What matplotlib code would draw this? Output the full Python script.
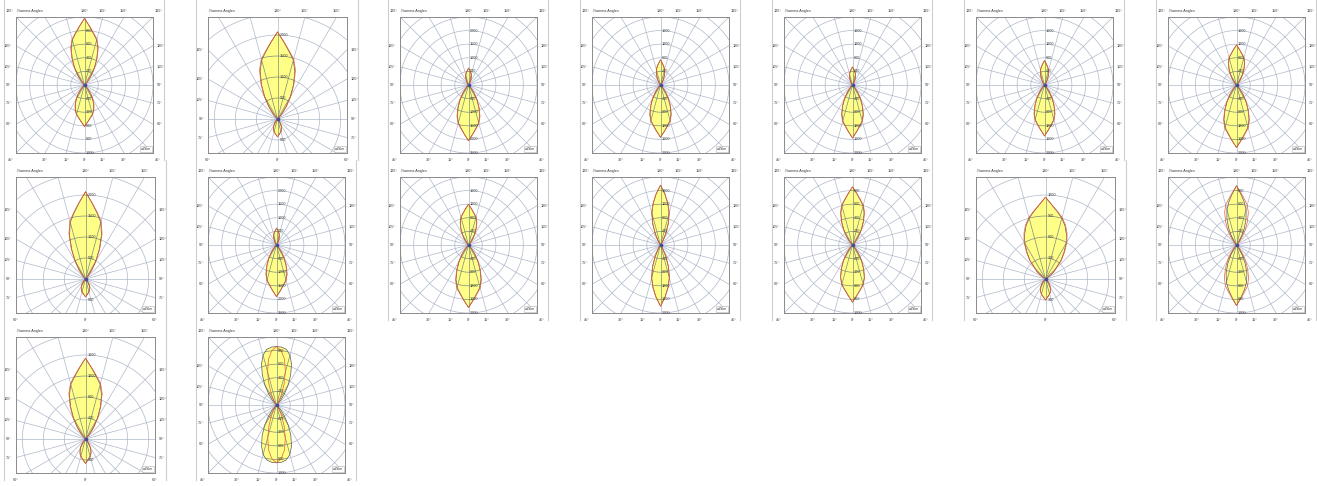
import numpy as np
import matplotlib.pyplot as plt
from matplotlib.collections import LineCollection
from matplotlib.patches import Polygon
from matplotlib.lines import Line2D

plt.rcParams['font.family'] = ['Liberation Sans', 'DejaVu Sans']

# angle away from the beam axis (deg) for every intensity list below
ANGLES = [0, 5, 10, 15, 20, 25, 30, 35, 40, 50, 60]

# 'A' = square diagram (+-45 deg), 'B' = tall diagram (+-60 deg)
KINDS = ['A', 'B', 'A', 'A', 'A', 'A', 'A',
         'B', 'A', 'A', 'A', 'A', 'B', 'A',
         'B', 'A']
# ring step of each diagram in cd/klm
STEPS = [200, 500, 500, 400, 400, 400, 400,
         500, 500, 400, 400, 200, 300, 200,
         400, 200]

# cd/klm, UP = towards 180 deg, DN = towards 0 deg; C0 = filled plane, C90 = red plane
P01_UP_C0 = [980, 862, 764, 686, 568, 421, 284, 167, 74, 10, 0]
P01_UP_C90 = [980, 867, 774, 701, 588, 441, 304, 176, 78, 12, 0]
P01_DN_C0 = [610, 543, 488, 445, 390, 317, 238, 159, 85, 15, 0]
P01_DN_C90 = [610, 546, 494, 453, 400, 328, 247, 166, 90, 17, 0]

P02_UP_C0 = [2075, 1826, 1619, 1453, 1204, 892, 602, 353, 156, 21, 0]
P02_UP_C90 = [2075, 1836, 1639, 1484, 1245, 934, 643, 374, 166, 25, 0]
P02_DN_C0 = [425, 378, 340, 310, 272, 221, 166, 111, 60, 11, 0]
P02_DN_C90 = [425, 380, 344, 316, 278, 227, 171, 115, 63, 12, 0]

P03_UP_C0 = [620, 533, 459, 384, 291, 192, 105, 43, 12, 0, 0]
P03_UP_C90 = [620, 538, 468, 395, 305, 205, 113, 48, 14, 0, 0]
P03_DN_C0 = [2050, 1804, 1599, 1435, 1189, 882, 595, 349, 154, 21, 0]
P03_DN_C90 = [2050, 1814, 1620, 1466, 1230, 923, 636, 369, 164, 25, 0]

P04_UP_C0 = [740, 636, 548, 459, 348, 229, 126, 52, 15, 0, 0]
P04_UP_C90 = [740, 642, 558, 472, 362, 243, 135, 57, 17, 0, 0]
P04_DN_C0 = [1540, 1355, 1201, 1078, 893, 662, 447, 262, 116, 15, 0]
P04_DN_C90 = [1540, 1363, 1217, 1101, 924, 693, 477, 277, 123, 18, 0]

P05_UP_C0 = [530, 456, 392, 329, 249, 164, 90, 37, 11, 0, 0]
P05_UP_C90 = [530, 460, 399, 338, 260, 174, 97, 41, 12, 0, 0]
P05_DN_C0 = [1560, 1373, 1217, 1092, 905, 671, 452, 265, 117, 16, 0]
P05_DN_C90 = [1560, 1381, 1232, 1115, 936, 702, 484, 281, 125, 19, 0]

P06_UP_C0 = [720, 619, 533, 446, 338, 223, 122, 50, 14, 0, 0]
P06_UP_C90 = [720, 625, 543, 459, 352, 236, 131, 55, 16, 0, 0]
P06_DN_C0 = [1500, 1320, 1170, 1050, 870, 645, 435, 255, 113, 15, 0]
P06_DN_C90 = [1500, 1328, 1185, 1073, 900, 675, 465, 270, 120, 18, 0]

P07_UP_C0 = [1180, 1038, 920, 826, 684, 507, 342, 201, 89, 12, 0]
P07_UP_C90 = [1180, 1044, 932, 844, 708, 531, 366, 212, 94, 14, 0]
P07_DN_C0 = [1840, 1619, 1435, 1288, 1067, 791, 534, 313, 138, 18, 0]
P07_DN_C90 = [1840, 1628, 1454, 1316, 1104, 828, 570, 331, 147, 22, 0]

P08_UP_C0 = [2080, 1810, 1590, 1400, 1110, 770, 480, 250, 95, 10, 0]
P08_UP_C90 = [2080, 1820, 1610, 1430, 1150, 810, 510, 270, 105, 12, 0]
P08_DN_C0 = [425, 380, 345, 317, 282, 236, 185, 132, 80, 22, 4]
P08_DN_C90 = [425, 382, 349, 322, 287, 241, 190, 136, 83, 24, 5]

P09_UP_C0 = [620, 533, 459, 384, 291, 192, 105, 43, 12, 0, 0]
P09_UP_C90 = [620, 538, 468, 395, 305, 205, 113, 48, 14, 0, 0]
P09_DN_C0 = [1900, 1672, 1482, 1330, 1102, 817, 551, 323, 143, 19, 0]
P09_DN_C90 = [1900, 1682, 1501, 1359, 1140, 855, 589, 342, 152, 23, 0]

P10_UP_C0 = [1200, 1056, 936, 840, 696, 516, 348, 204, 90, 12, 0]
P10_UP_C90 = [1200, 1062, 948, 858, 720, 540, 372, 216, 96, 14, 0]
P10_DN_C0 = [1840, 1619, 1435, 1288, 1067, 791, 534, 313, 138, 18, 0]
P10_DN_C90 = [1840, 1628, 1454, 1316, 1104, 828, 570, 331, 147, 22, 0]

P11_UP_C0 = [1760, 1496, 1232, 968, 651, 352, 123, 35, 0, 0, 0]
P11_UP_C90 = [1760, 1505, 1250, 995, 680, 375, 135, 40, 0, 0, 0]
P11_DN_C0 = [1800, 1530, 1260, 990, 666, 360, 126, 36, 0, 0, 0]
P11_DN_C90 = [1800, 1540, 1280, 1015, 695, 385, 140, 40, 0, 0, 0]

P12_UP_C0 = [855, 752, 667, 599, 496, 368, 248, 145, 64, 9, 0]
P12_UP_C90 = [855, 757, 675, 611, 513, 385, 265, 154, 68, 10, 0]
P12_DN_C0 = [840, 742, 662, 598, 504, 378, 258, 151, 68, 10, 0]
P12_DN_C90 = [840, 745, 668, 607, 515, 390, 268, 158, 72, 11, 0]

P13_UP_C0 = [1170, 1060, 975, 900, 810, 705, 590, 455, 340, 140, 25]
P13_UP_C90 = [1170, 1063, 982, 912, 828, 725, 610, 475, 355, 150, 28]
P13_DN_C0 = [300, 268, 243, 222, 197, 166, 132, 100, 68, 21, 4]
P13_DN_C90 = [300, 270, 246, 226, 201, 170, 136, 103, 71, 22, 5]

P14_UP_C0 = [870, 748, 644, 539, 409, 270, 148, 61, 17, 0, 0]
P14_UP_C90 = [870, 766, 679, 609, 505, 374, 252, 148, 65, 9, 0]
P14_DN_C0 = [890, 770, 668, 567, 445, 302, 171, 73, 22, 0, 0]
P14_DN_C90 = [890, 783, 694, 623, 516, 383, 258, 151, 67, 9, 0]

P15_UP_C0 = [1540, 1355, 1201, 1078, 893, 662, 447, 262, 116, 15, 0]
P15_UP_C90 = [1540, 1363, 1217, 1101, 924, 693, 477, 277, 123, 18, 0]
P15_DN_C0 = [465, 414, 372, 339, 298, 242, 181, 121, 65, 12, 0]
P15_DN_C90 = [465, 416, 377, 346, 305, 249, 187, 125, 68, 13, 0]

P16_UP_C0 = [860, 855, 830, 760, 640, 490, 340, 205, 100, 15, 0]
P16_UP_C90 = [860, 800, 680, 500, 320, 180, 80, 25, 0, 0, 0]
P16_DN_C0 = [850, 845, 820, 755, 640, 495, 345, 210, 105, 15, 0]
P16_DN_C90 = [850, 790, 670, 495, 320, 180, 80, 25, 0, 0, 0]

UP_C0 = [P01_UP_C0, P02_UP_C0, P03_UP_C0, P04_UP_C0, P05_UP_C0, P06_UP_C0, P07_UP_C0, P08_UP_C0,
         P09_UP_C0, P10_UP_C0, P11_UP_C0, P12_UP_C0, P13_UP_C0, P14_UP_C0, P15_UP_C0, P16_UP_C0]
UP_C90 = [P01_UP_C90, P02_UP_C90, P03_UP_C90, P04_UP_C90, P05_UP_C90, P06_UP_C90, P07_UP_C90, P08_UP_C90,
          P09_UP_C90, P10_UP_C90, P11_UP_C90, P12_UP_C90, P13_UP_C90, P14_UP_C90, P15_UP_C90, P16_UP_C90]
DN_C0 = [P01_DN_C0, P02_DN_C0, P03_DN_C0, P04_DN_C0, P05_DN_C0, P06_DN_C0, P07_DN_C0, P08_DN_C0,
         P09_DN_C0, P10_DN_C0, P11_DN_C0, P12_DN_C0, P13_DN_C0, P14_DN_C0, P15_DN_C0, P16_DN_C0]
DN_C90 = [P01_DN_C90, P02_DN_C90, P03_DN_C90, P04_DN_C90, P05_DN_C90, P06_DN_C90, P07_DN_C90, P08_DN_C90,
          P09_DN_C90, P10_DN_C90, P11_DN_C90, P12_DN_C90, P13_DN_C90, P14_DN_C90, P15_DN_C90, P16_DN_C90]

W, H = 1317, 486
GRID = '#aeb8ca'
GRID_IN = '#7f8a78'
FILL = '#ffff88'
RED = '#ea5a34'
DARK = '#5a5a5a'
TXT = '#3a3a3a'
FS = 2.7

fig = plt.figure(figsize=(W / 100, H / 100), dpi=100)


def lobe_xy(vals, step, sign):
    a = np.radians(ANGLES)
    r = np.array(vals, dtype=float) / step
    x = r * np.sin(a)
    y = sign * r * np.cos(a)
    xs = np.concatenate([-x[::-1], x[1:], [0]])
    ys = np.concatenate([y[::-1], y[1:], [0]])
    return xs, ys


def grid_segments(rmax):
    segs = []
    t = np.linspace(0, 2 * np.pi, 240)
    for k in range(1, int(rmax) + 2):
        segs.append(np.column_stack([k * np.cos(t), k * np.sin(t)]))
    for g in range(0, 360, 15):
        a = np.radians(g)
        segs.append(np.array([[0, 0], [2 * rmax * np.sin(a), -2 * rmax * np.cos(a)]]))
    return segs


for i, kind in enumerate(KINDS):
    col, row = i % 7, i // 7
    left = 16 + 192 * col
    top = 17 + 160 * row
    step = STEPS[i]
    if kind == 'A':
        w, h = 137, 136
        x0, x1, y0, y1 = -5.0, 5.0, -5.0, 5.0
    else:
        w, h = 139, 136
        x0, x1, y0, y1 = -3.3, 3.3, -1.62, 4.86
    sx = w / (x1 - x0)
    sy = h / (y1 - y0)

    # separator lines of the panel
    for xf in (left - 12, left + w + 11):
        fig.add_artist(Line2D([xf / W, xf / W], [1 - 160 * row / H, 1 - min(160 * row + 160, H) / H],
                              color='#cdcdcd', lw=0.8))

    ax = fig.add_axes([left / W, 1 - (top + h) / H, w / W, h / H])
    ax.set_xlim(x0, x1)
    ax.set_ylim(y0, y1)
    ax.set_xticks([])
    ax.set_yticks([])
    for s in ax.spines.values():
        s.set_color('#8a8a8a')
        s.set_linewidth(0.7)

    rmax = np.hypot(max(-x0, x1), max(-y0, y1))
    ax.add_collection(LineCollection(grid_segments(rmax), colors=GRID, linewidths=0.5, zorder=1))

    for vals_c0, vals_c90, sign in ((UP_C0[i], UP_C90[i], 1), (DN_C0[i], DN_C90[i], -1)):
        xs, ys = lobe_xy(vals_c0, step, sign)
        poly = Polygon(np.column_stack([xs, ys]), closed=True, fc=FILL, ec='none', zorder=2)
        ax.add_patch(poly)
        inner = LineCollection(grid_segments(rmax), colors=GRID_IN, linewidths=0.5, zorder=3)
        ax.add_collection(inner)
        inner.set_clip_path(poly)
        ax.plot(xs, ys, color=DARK, lw=0.5, zorder=4)
        xr, yr = lobe_xy(vals_c90, step, sign)
        ax.plot(xr, yr, color=RED, lw=0.5, zorder=5)

    ax.plot([0], [0], marker='o', ms=1.6, color='#3a4f9a', zorder=6)

    # ring values
    n_up = 4
    n_dn = 5 if kind == 'A' else 1
    for k in range(1, n_up + 1):
        ax.text(0.12, k, str(step * k), fontsize=FS, color=TXT, ha='left', va='center', zorder=7)
    for k in range(1, n_dn + 1):
        ax.text(0.12, -k, str(step * k), fontsize=FS, color=TXT, ha='left', va='center', zorder=7,
                clip_on=False)
    ax.text(x1 - 2 / sx, y0 + 2 / sy, 'cd/klm', fontsize=FS - 0.2, color=TXT, ha='right', va='bottom',
            zorder=7, bbox=dict(boxstyle='square,pad=0.25', fc='white', ec='#b0b0b0', lw=0.4))

    # angle labels
    ty = y1 + 6 / sy
    by = y0 - 7 / sy
    akw = dict(fontsize=FS, color=TXT, va='center', clip_on=False)
    ax.text(x0 + 1 / sx, ty, 'Gamma Angles', ha='left', **akw)
    ax.text(0, ty, '180°', ha='center', **akw)
    ax.text(y1 * np.tan(np.radians(15)), ty, '165°', ha='center', **akw)
    ax.text(y1 * np.tan(np.radians(30)), ty, '150°', ha='center', **akw)
    if kind == 'A':
        ax.text(x0 - 2 / sx, ty, '135°', ha='right', **akw)
        ax.text(x1 + 2 / sx, ty, '135°', ha='left', **akw)
        side = [(120, x1 * np.tan(np.radians(30))), (105, x1 * np.tan(np.radians(15))), (90, 0.0),
                (75, -x1 * np.tan(np.radians(15))), (60, -x1 * np.tan(np.radians(30)))]
        bottom = [(-x1 * np.tan(np.radians(30)), '30°'), (-x1 * np.tan(np.radians(15)), '15°'), (0, '0°'),
                  (x1 * np.tan(np.radians(15)), '15°'), (x1 * np.tan(np.radians(30)), '30°')]
        ax.text(x0 - 2 / sx, by, '45°', ha='right', **akw)
        ax.text(x1 + 2 / sx, by, '45°', ha='left', **akw)
    else:
        side = [(135, x1), (120, x1 * np.tan(np.radians(30))), (105, x1 * np.tan(np.radians(15))),
                (90, 0.0), (75, -x1 * np.tan(np.radians(15)))]
        bottom = [(x0, '60°'), (0, '0°'), (x1, '60°')]
    for g, yy in side:
        ax.text(x0 - 4 / sx, yy, f'{g}°', ha='right', **akw)
        ax.text(x1 + 4 / sx, yy, f'{g}°', ha='left', **akw)
    for xx, lab in bottom:
        ax.text(xx, by, lab, ha='center', **akw)

fig.savefig('out.png', dpi=100)
